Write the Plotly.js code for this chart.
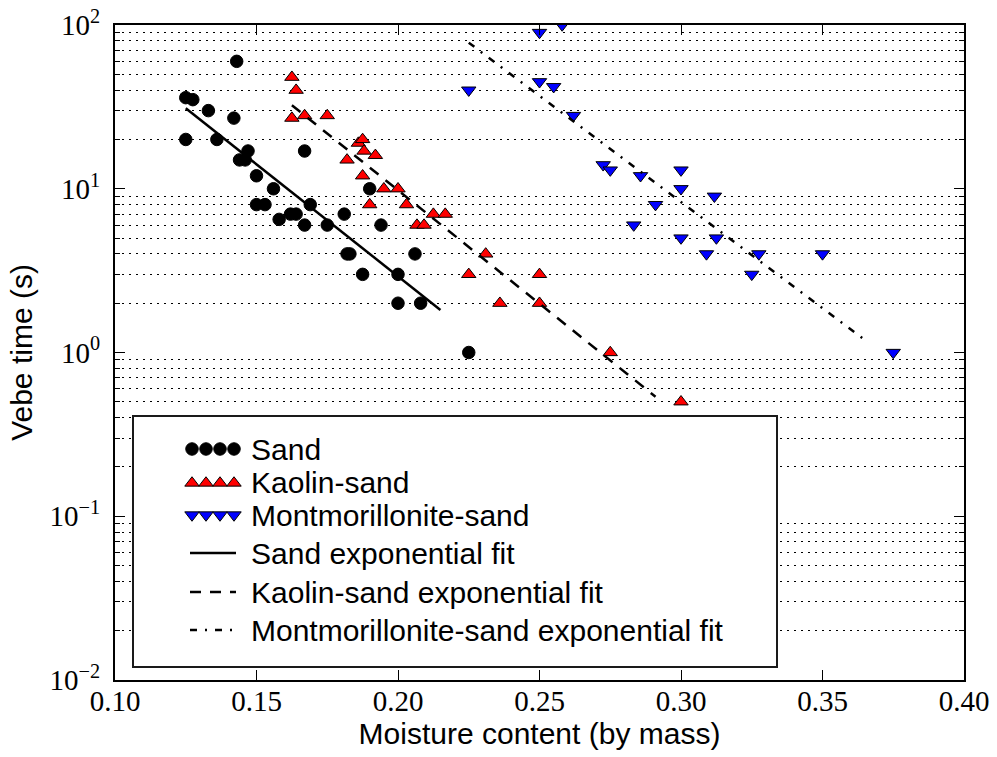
<!DOCTYPE html>
<html>
<head>
<meta charset="utf-8">
<script src="https://cdn.plot.ly/plotly-3.0.1.min.js"></script>
<style>
  html, body { margin: 0; padding: 0; background: #ffffff; }
  #chart { width: 997px; height: 757px; }
</style>
</head>
<body>
<div id="chart"></div>
<script>
// ---- Vebe time measurements (moisture content by mass, Vebe time in s) ----
const sandMoisture = [0.143, 0.125, 0.1275, 0.133, 0.142, 0.125, 0.136, 0.147, 0.167, 0.144,
                      0.146, 0.150, 0.156, 0.190, 0.150, 0.153, 0.169, 0.158, 0.162, 0.164,
                      0.167, 0.175, 0.181, 0.194, 0.182, 0.183, 0.206, 0.1875, 0.200, 0.200,
                      0.208, 0.225];
const sandVebe = [60, 36, 35, 30, 27, 20, 20, 17, 17, 15,
                  15, 12, 10, 10, 8, 8, 8, 6.5, 7, 7,
                  6, 6, 7, 6, 4, 4, 4, 3, 3, 2,
                  2, 1];

const kaolinMoisture = [0.1625, 0.164, 0.1625, 0.167, 0.175, 0.186, 0.1875, 0.188, 0.192, 0.182,
                        0.1875, 0.195, 0.200, 0.190, 0.203, 0.2125, 0.2167, 0.2067, 0.2092, 0.231,
                        0.225, 0.250, 0.236, 0.250, 0.275, 0.300];
const kaolinVebe = [48, 40, 27, 28, 28, 19, 20, 17, 16, 15,
                    12, 10, 10, 8, 8, 7, 7, 6, 6, 4,
                    3, 3, 2, 2, 1, 0.5];

const montMoisture = [0.258, 0.250, 0.225, 0.250, 0.255, 0.262, 0.2725, 0.275, 0.2857, 0.300,
                      0.300, 0.291, 0.2833, 0.300, 0.3118, 0.3125, 0.309, 0.3275, 0.350, 0.325,
                      0.375];
const montVebe = [100, 90, 40, 45, 42, 28, 14, 13, 12, 13,
                  10, 8, 6, 5, 9, 5, 4, 4, 4, 3,
                  1];

// ---- exponential fits (straight on a log axis: start and end of each fit) ----
const sandFitMoisture = [0.125, 0.215];
const sandFitVebe = [31, 1.82];
const kaolinFitMoisture = [0.1625, 0.291];
const kaolinFitVebe = [32.4, 0.537];
const montFitMoisture = [0.225, 0.365];
const montFitVebe = [78, 1.19];

// ---- tick labels ----
const xTickVals = [0.10, 0.15, 0.20, 0.25, 0.30, 0.35, 0.40];
const xTickText = ['0.10', '0.15', '0.20', '0.25', '0.30', '0.35', '0.40'];
const yTickVals = [0.01, 0.1, 1, 10, 100];
const yTickText = ['10<sup>\u22122</sup>', '10<sup>\u22121</sup>', '10<sup>0</sup>',
                   '10<sup>1</sup>', '10<sup>2</sup>'];

// ---- page geometry ----
const W = 997, H = 757;
const M = { l: 115, r: 33, t: 25, b: 77 };
const plotW = W - M.l - M.r;
const plotH = H - M.t - M.b;
const X_RANGE = [0.10, 0.40];
const Y_DECADES = [-2, 2];
const fx = px => (px - M.l) / plotW;        // pixel column -> plot fraction
const fy = py => (H - M.b - py) / plotH;    // pixel row -> plot fraction
// plot fraction -> axis data value (linear x, logarithmic y)
const xData = f => X_RANGE[0] + f * (X_RANGE[1] - X_RANGE[0]);
const yData = f => Math.pow(10, Y_DECADES[0] + f * (Y_DECADES[1] - Y_DECADES[0]));

// minor ticks at 2..9 of every decade
const minorVals = [];
for (let e = Y_DECADES[0]; e < Y_DECADES[1]; e++) {
  for (let m = 2; m < 10; m++) minorVals.push(m * Math.pow(10, e));
}

// ---- shared styles ----
const sansFont = 'Liberation Sans, Arial, Helvetica, sans-serif';
const serifFont = 'Liberation Serif, Times New Roman, serif';

const sandMarker = { symbol: 'circle', color: '#000000', size: 12.5, line: { color: '#000000', width: 1 } };
const kaolinMarker = { symbol: 'triangle-up', color: '#ff0000', size: 12.5, line: { color: '#000000', width: 1 } };
const montMarker = { symbol: 'triangle-down', color: '#0000ff', size: 12.5, line: { color: '#000000', width: 1 } };

const sandFitLine = { color: '#000000', width: 2.5, dash: 'solid' };
const kaolinFitLine = { color: '#000000', width: 2.5, dash: '11px,9px' };
const montFitLine = { color: '#000000', width: 2.5, dash: '7px,8px,2px,8px' };

const traces = [
  { x: sandMoisture, y: sandVebe, type: 'scatter', mode: 'markers', marker: sandMarker,
    name: 'Sand', showlegend: false, cliponaxis: true },
  { x: kaolinMoisture, y: kaolinVebe, type: 'scatter', mode: 'markers', marker: kaolinMarker,
    name: 'Kaolin-sand', showlegend: false, cliponaxis: true },
  { x: montMoisture, y: montVebe, type: 'scatter', mode: 'markers', marker: montMarker,
    name: 'Montmorillonite-sand', showlegend: false, cliponaxis: true },
  { x: sandFitMoisture, y: sandFitVebe, type: 'scatter', mode: 'lines', line: sandFitLine,
    name: 'Sand exponential fit', showlegend: false },
  { x: kaolinFitMoisture, y: kaolinFitVebe, type: 'scatter', mode: 'lines', line: kaolinFitLine,
    name: 'Kaolin-sand exponential fit', showlegend: false },
  { x: montFitMoisture, y: montFitVebe, type: 'scatter', mode: 'lines', line: montFitLine,
    name: 'Montmorillonite-sand exponential fit', showlegend: false }
];

// ---- legend (box, key glyphs and labels) ----
const legendBox = { left: 133, right: 777, top: 416, bottom: 667 };
const keyMarkerCols = [192, 206, 220, 234];
const keyLineCols = [190, 236];
const labelCol = 249;
const legendRows = [
  { label: 'Sand', row: 449, marker: sandMarker },
  { label: 'Kaolin-sand', row: 483, marker: kaolinMarker },
  { label: 'Montmorillonite-sand', row: 515, marker: montMarker },
  { label: 'Sand exponential fit', row: 553, line: sandFitLine },
  { label: 'Kaolin-sand exponential fit', row: 592, line: kaolinFitLine },
  { label: 'Montmorillonite-sand exponential fit', row: 630, line: montFitLine }
];

const annotations = [];
legendRows.forEach(r => {
  if (r.marker) {
    traces.push({
      x: keyMarkerCols.map(fx), y: keyMarkerCols.map(() => fy(r.row)),
      xaxis: 'x2', yaxis: 'y2', type: 'scatter', mode: 'markers',
      marker: r.marker, showlegend: false, hoverinfo: 'skip'
    });
  } else {
    traces.push({
      x: keyLineCols.map(fx), y: keyLineCols.map(() => fy(r.row)),
      xaxis: 'x2', yaxis: 'y2', type: 'scatter', mode: 'lines',
      line: r.line, showlegend: false, hoverinfo: 'skip'
    });
  }
  annotations.push({
    xref: 'paper', yref: 'paper', x: fx(labelCol), y: fy(r.row),
    xanchor: 'left', yanchor: 'middle', showarrow: false,
    text: r.label, font: { family: sansFont, size: 30, color: '#000000' }
  });
});

const layout = {
  width: W, height: H,
  margin: M,
  paper_bgcolor: '#ffffff',
  plot_bgcolor: '#ffffff',
  showlegend: false,
  font: { family: sansFont, color: '#000000' },
  xaxis: {
    range: X_RANGE,
    tickmode: 'array', tickvals: xTickVals, ticktext: xTickText,
    tickfont: { family: serifFont, size: 29, color: '#000000' },
    ticks: 'inside', ticklen: 10, tickwidth: 1, tickcolor: '#000000',
    showline: true, linecolor: '#000000', linewidth: 2, mirror: 'allticks',
    showgrid: false, zeroline: false,
    ticklabelstandoff: -6,
    title: { text: 'Moisture content (by mass)', font: { family: sansFont, size: 30, color: '#000000' }, standoff: 0 }
  },
  yaxis: {
    type: 'log', range: Y_DECADES,
    tickmode: 'array', tickvals: yTickVals, ticktext: yTickText,
    tickfont: { family: serifFont, size: 29, color: '#000000' },
    ticks: 'inside', ticklen: 10, tickwidth: 1, tickcolor: '#000000',
    showline: true, linecolor: '#000000', linewidth: 2, mirror: 'allticks',
    showgrid: false, zeroline: false,
    ticklabelstandoff: 7,
    minor: {
      tickmode: 'array', tickvals: minorVals,
      ticks: 'inside', ticklen: 5, tickwidth: 1, tickcolor: '#000000',
      showgrid: true, gridcolor: '#000000', gridwidth: 1, griddash: '2px,5px'
    },
    title: { text: 'Vebe time (s)', font: { family: sansFont, size: 30, color: '#000000' }, standoff: 8 }
  },
  xaxis2: { overlaying: 'x', range: [0, 1], visible: false, fixedrange: true },
  yaxis2: { overlaying: 'y', range: [0, 1], visible: false, fixedrange: true },
  shapes: [{
    type: 'rect', xref: 'x', yref: 'y', layer: 'between',
    x0: xData(fx(legendBox.left)), x1: xData(fx(legendBox.right)),
    y0: yData(fy(legendBox.bottom)), y1: yData(fy(legendBox.top)),
    fillcolor: '#ffffff', line: { color: '#1a1a1a', width: 2 }
  }],
  annotations: annotations
};

Plotly.newPlot('chart', traces, layout, { staticPlot: true, displayModeBar: false });
</script>
</body>
</html>
